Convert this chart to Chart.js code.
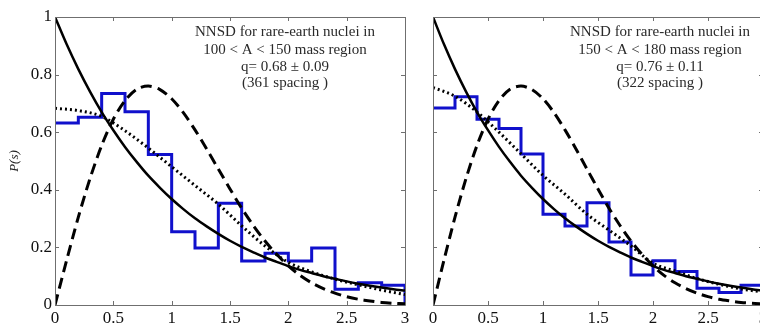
<!DOCTYPE html>
<html>
<head>
<meta charset="utf-8">
<script src="https://cdn.jsdelivr.net/npm/chart.js@4.4.1/dist/chart.umd.min.js"></script>
<style>
html, body { margin: 0; padding: 0; background: #fff; overflow: hidden; width: 760px; height: 324px; }
canvas { position: absolute; top: 0; }
#left { left: 0; }
#right { left: 420px; }
</style>
</head>
<body>
<canvas id="left" width="420" height="324"></canvas>
<canvas id="right" width="360" height="324"></canvas>
<script>
// bin edges of the histograms (width 0.2)
const binEdges = [0, 0.2, 0.4, 0.6, 0.8, 1.0, 1.2, 1.4, 1.6, 1.8, 2.0, 2.2, 2.4, 2.6, 2.8, 3.0];
const histLeft  = [0.632, 0.652, 0.734, 0.671, 0.523, 0.254, 0.198, 0.353, 0.153, 0.180, 0.153, 0.198, 0.055, 0.077, 0.069];
const histRight = [0.684, 0.723, 0.645, 0.613, 0.524, 0.315, 0.274, 0.355, 0.219, 0.104, 0.154, 0.116, 0.058, 0.043, 0.069];

// curve sample points
const sFine = [0, 0.1, 0.2, 0.3, 0.4, 0.5, 0.6, 0.7, 0.8, 0.9, 1.0, 1.1, 1.2, 1.3, 1.4, 1.5,
               1.6, 1.7, 1.8, 1.9, 2.0, 2.1, 2.2, 2.3, 2.4, 2.5, 2.6, 2.7, 2.8, 2.9, 3.0];
const poisson = [1.000, 0.905, 0.819, 0.741, 0.670, 0.607, 0.549, 0.497, 0.449, 0.407, 0.368, 0.333, 0.301, 0.273, 0.247, 0.223,
                 0.202, 0.183, 0.165, 0.150, 0.135, 0.122, 0.111, 0.100, 0.091, 0.082, 0.074, 0.067, 0.061, 0.055, 0.050];
const wigner  = [0.000, 0.156, 0.305, 0.439, 0.554, 0.645, 0.710, 0.749, 0.760, 0.748, 0.716, 0.668, 0.608, 0.542, 0.472, 0.403,
                 0.336, 0.276, 0.222, 0.176, 0.136, 0.103, 0.077, 0.057, 0.041, 0.029, 0.020, 0.014, 0.009, 0.006, 0.004];
const fitLeft  = [0.683, 0.675, 0.655, 0.605, 0.545, 0.480, 0.415, 0.350, 0.275, 0.205, 0.148, 0.115, 0.090, 0.070, 0.052, 0.036];
const fitRight = [0.755, 0.725, 0.670, 0.600, 0.525, 0.450, 0.385, 0.315, 0.260, 0.205, 0.145, 0.118, 0.092, 0.072, 0.056, 0.045];

const xTicks = [0, 0.5, 1, 1.5, 2, 2.5, 3];
const yTicks = [0, 0.2, 0.4, 0.6, 0.8, 1];

const textLeft  = ['NNSD for rare-earth nuclei in', '100 < A < 150 mass region', 'q= 0.68 \u00b1 0.09', '(361 spacing )'];
const textRight = ['NNSD for rare-earth nuclei in', '150 < A < 180 mass region', 'q= 0.76 \u00b1 0.11', '(322 spacing )'];

const serif = '"Liberation Serif", "Times New Roman", serif';
const fmt = v => String(Math.round(v * 10) / 10);

// MATLAB style box with inward ticks + the text block
const boxTicks = {
  id: 'boxTicks',
  afterDatasetsDraw(chart, args, opts) {
    const { ctx, chartArea: a, scales: { x, y } } = chart;
    ctx.save();
    ctx.strokeStyle = '#6f6f6f';
    ctx.lineWidth = 1;
    ctx.beginPath();
    ctx.rect(a.left + 0.5, a.top + 0.5, a.right - a.left, a.bottom - a.top);
    x.ticks.forEach(t => {
      const px = Math.round(x.getPixelForValue(t.value)) + 0.5;
      ctx.moveTo(px, a.bottom); ctx.lineTo(px, a.bottom - 4);
      ctx.moveTo(px, a.top); ctx.lineTo(px, a.top + 4);
    });
    y.ticks.forEach(t => {
      const py = Math.round(y.getPixelForValue(t.value)) + 0.5;
      ctx.moveTo(a.left, py); ctx.lineTo(a.left + 4, py);
      ctx.moveTo(a.right, py); ctx.lineTo(a.right - 4, py);
    });
    ctx.stroke();

    ctx.fillStyle = '#2a2a2a';
    ctx.font = '15px ' + serif;
    ctx.textAlign = 'center';
    const offs = [19, 36.5, 54, 70];
    opts.lines.forEach((l, i) => ctx.fillText(l, a.left + opts.cx, a.top + offs[i]));
    ctx.restore();
  }
};

function histPoints(vals) {
  const pts = binEdges.map((e, i) => ({ x: e, y: vals[Math.min(i, vals.length - 1)] }));
  pts.push({ x: 3, y: 0 });
  return pts;
}

function makeChart(id, hist, fit, lines, cx, yw, rightPad, showY) {
  return new Chart(document.getElementById(id), {
    type: 'line',
    data: {
      datasets: [
        {
          data: sFine.map((s, i) => ({ x: s, y: poisson[i] })),
          borderColor: '#000', borderWidth: 2.5, pointRadius: 0, tension: 0.3
        },
        {
          data: sFine.map((s, i) => ({ x: s, y: wigner[i] })),
          borderColor: '#000', borderWidth: 3, borderDash: [11, 6], pointRadius: 0, tension: 0.3
        },
        {
          data: binEdges.map((s, i) => ({ x: s, y: fit[i] })),
          borderColor: '#000', borderWidth: 3, borderDash: [2, 3], pointRadius: 0,
          cubicInterpolationMode: 'monotone'
        },
        {
          data: histPoints(hist),
          borderColor: '#1010cc', borderWidth: 3, pointRadius: 0, stepped: 'before'
        }
      ]
    },
    options: {
      responsive: false,
      animation: false,
      devicePixelRatio: 1,
      layout: { padding: { top: 17, right: rightPad, left: 0, bottom: 0 } },
      plugins: {
        legend: { display: false },
        tooltip: { enabled: false },
        boxTicks: { lines: lines, cx: cx }
      },
      scales: {
        x: {
          type: 'linear', min: 0, max: 3,
          afterBuildTicks: s => { s.ticks = xTicks.map(v => ({ value: v })); },
          afterFit: s => { s.height = 19; },
          grid: { display: false, drawTicks: false },
          border: { display: false },
          ticks: { padding: 3, color: '#111', font: { family: serif, size: 17 }, maxRotation: 0, callback: fmt }
        },
        y: {
          type: 'linear', min: 0, max: 1,
          afterBuildTicks: s => { s.ticks = yTicks.map(v => ({ value: v })); },
          afterFit: s => { s.width = yw; },
          grid: { display: false, drawTicks: false },
          border: { display: false },
          ticks: { display: showY, padding: 3, color: '#111', font: { family: serif, size: 17 }, callback: fmt },
          title: {
            display: showY, text: 'P(s)', color: '#222',
            font: { family: serif, size: 13, style: 'italic' },
            padding: { top: 7, bottom: 0 }
          }
        }
      }
    },
    plugins: [boxTicks]
  });
}

makeChart('left', histLeft, fitLeft, textLeft, 230, 55, 15, true);
makeChart('right', histRight, fitRight, textRight, 227, 13, 17, false);
</script>
</body>
</html>
